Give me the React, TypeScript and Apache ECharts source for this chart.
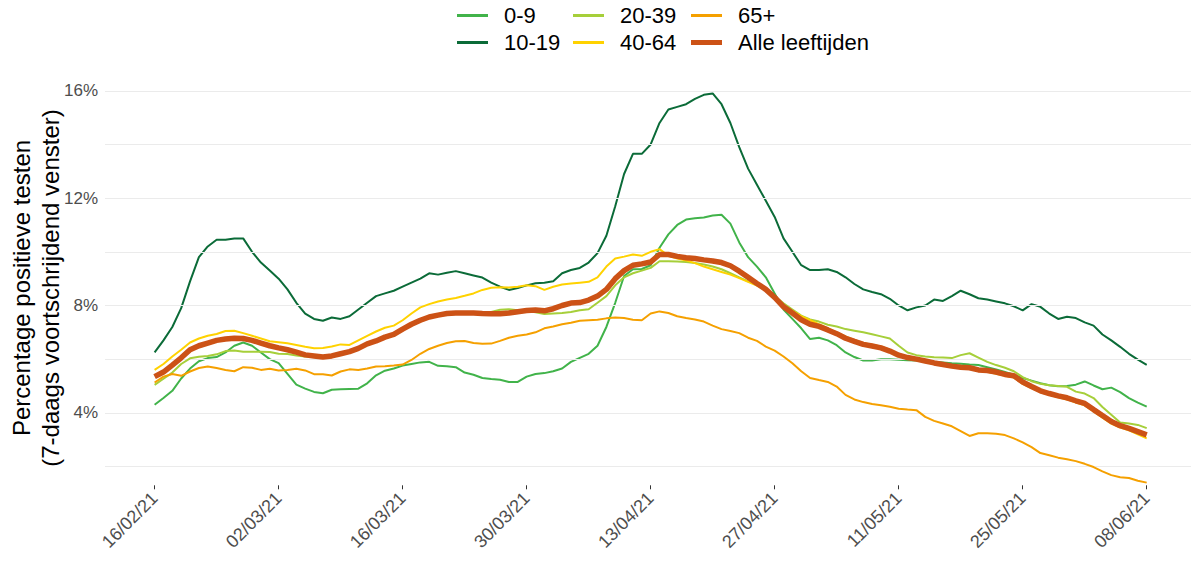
import React, { useEffect, useRef } from "react";
import * as echarts from "echarts";

// x positions are day indices, day 0 = 16/02/21, day 112 = 08/06/21
const tickDays = [0, 14, 28, 42, 56, 70, 84, 98, 112];
const tickLabels = ["16/02/21", "02/03/21", "16/03/21", "30/03/21", "13/04/21", "27/04/21", "11/05/21", "25/05/21", "08/06/21"];
const yLabelValues = [4, 8, 12, 16];
const gridValues = [2, 4, 6, 8, 10, 12, 14, 16];

const age0_9 = [
  4.30, 4.55, 4.82, 5.28, 5.65, 5.92, 6.04, 6.08, 6.25, 6.50,
  6.62, 6.50, 6.25, 6.00, 5.85, 5.45, 5.05, 4.90, 4.78, 4.73,
  4.86, 4.88, 4.89, 4.90, 5.10, 5.40, 5.57, 5.65, 5.76, 5.82,
  5.88, 5.90, 5.75, 5.74, 5.70, 5.50, 5.42, 5.30, 5.26, 5.23,
  5.15, 5.15, 5.35, 5.45, 5.48, 5.55, 5.65, 5.90, 6.05, 6.20,
  6.50, 7.20, 8.10, 9.10, 9.35, 9.36, 9.50, 10.15, 10.65, 11.00,
  11.20, 11.25, 11.28, 11.35, 11.38, 11.05, 10.35, 9.80, 9.45, 9.05,
  8.45, 7.85, 7.50, 7.15, 6.75, 6.80, 6.70, 6.52, 6.25, 6.08,
  5.95, 5.95, 6.00, 6.00, 5.98, 5.96, 5.95, 5.93, 5.90, 5.88,
  5.85, 5.83, 5.80, 5.78, 5.70, 5.62, 5.52, 5.42, 5.30, 5.20,
  5.10, 5.03, 4.99, 5.00, 5.05, 5.17, 5.02, 4.88, 4.94, 4.77,
  4.55, 4.38, 4.23,
];

const age10_19 = [
  6.25, 6.70, 7.20, 7.90, 8.90, 9.80, 10.20, 10.45, 10.45, 10.50,
  10.50, 10.00, 9.60, 9.30, 9.00, 8.60, 8.10, 7.70, 7.50, 7.43,
  7.55, 7.50, 7.60, 7.85, 8.10, 8.35, 8.45, 8.55, 8.70, 8.85,
  9.00, 9.20, 9.15, 9.22, 9.28, 9.20, 9.12, 9.04, 8.85, 8.70,
  8.58, 8.65, 8.75, 8.83, 8.85, 8.90, 9.20, 9.32, 9.40, 9.60,
  9.95, 10.60, 11.70, 12.90, 13.65, 13.65, 14.00, 14.80, 15.30, 15.40,
  15.50, 15.70, 15.85, 15.90, 15.50, 14.80, 13.90, 13.10, 12.50, 11.90,
  11.30, 10.50, 10.00, 9.50, 9.32, 9.32, 9.35, 9.25, 9.05, 8.80,
  8.60, 8.50, 8.42, 8.25, 8.00, 7.82, 7.93, 8.00, 8.22, 8.17,
  8.35, 8.55, 8.42, 8.27, 8.22, 8.15, 8.08, 7.97, 7.82, 8.05,
  7.95, 7.70, 7.50, 7.58, 7.53, 7.37, 7.25, 6.92, 6.70, 6.46,
  6.20, 5.98, 5.79,
];

const age20_39 = [
  5.04, 5.27, 5.50, 5.82, 6.03, 6.09, 6.12, 6.18, 6.30, 6.32,
  6.28, 6.28, 6.28, 6.27, 6.20, 6.19, 6.14, 6.10, 6.08, 6.08,
  6.12, 6.20, 6.28, 6.40, 6.57, 6.68, 6.82, 6.92, 7.12, 7.30,
  7.45, 7.57, 7.65, 7.72, 7.74, 7.75, 7.74, 7.72, 7.76, 7.84,
  7.86, 7.82, 7.80, 7.75, 7.68, 7.70, 7.72, 7.76, 7.82, 7.86,
  8.10, 8.35, 8.75, 9.05, 9.20, 9.30, 9.40, 9.65, 9.65, 9.64,
  9.62, 9.58, 9.53, 9.45, 9.35, 9.20, 9.05, 8.90, 8.78, 8.62,
  8.35, 8.08, 7.85, 7.62, 7.48, 7.40, 7.28, 7.22, 7.12, 7.06,
  7.00, 6.93, 6.85, 6.77, 6.50, 6.25, 6.15, 6.10, 6.07, 6.06,
  6.04, 6.15, 6.22, 6.06, 5.90, 5.78, 5.68, 5.55, 5.33, 5.18,
  5.08, 5.03, 5.00, 4.97, 4.79, 4.72, 4.55, 4.22, 3.93, 3.64,
  3.60, 3.55, 3.43,
];

const age40_64 = [
  5.60, 5.82, 6.10, 6.35, 6.62, 6.77, 6.87, 6.94, 7.05, 7.06,
  6.97, 6.87, 6.77, 6.67, 6.63, 6.59, 6.53, 6.46, 6.41, 6.42,
  6.47, 6.55, 6.53, 6.70, 6.87, 7.03, 7.17, 7.25, 7.45, 7.70,
  7.93, 8.05, 8.15, 8.22, 8.28, 8.36, 8.45, 8.58, 8.66, 8.68,
  8.67, 8.70, 8.75, 8.72, 8.58, 8.70, 8.78, 8.82, 8.85, 8.88,
  9.05, 9.45, 9.75, 9.82, 9.90, 9.85, 10.00, 10.10, 9.85, 9.75,
  9.68, 9.58, 9.45, 9.35, 9.25, 9.15, 9.02, 8.88, 8.74, 8.58,
  8.30, 8.00, 7.80, 7.60, 7.45, 7.30, 7.15, 7.00, 6.85, 6.72,
  6.60, 6.54, 6.47, 6.35, 6.18, 6.06, 6.00, 5.93, 5.86, 5.80,
  5.74, 5.69, 5.66, 5.57, 5.53, 5.46, 5.38, 5.32, 5.08, 4.92,
  4.77, 4.67, 4.58, 4.50, 4.38, 4.28, 4.05, 3.82, 3.60, 3.45,
  3.35, 3.20, 3.05,
];

const age65plus = [
  5.13, 5.35, 5.45, 5.38, 5.54, 5.67, 5.73, 5.67, 5.60, 5.55,
  5.70, 5.68, 5.60, 5.64, 5.58, 5.60, 5.64, 5.58, 5.44, 5.44,
  5.39, 5.54, 5.62, 5.60, 5.65, 5.73, 5.74, 5.76, 5.80, 5.97,
  6.20, 6.38, 6.50, 6.60, 6.67, 6.68, 6.60, 6.57, 6.58, 6.68,
  6.80, 6.87, 6.92, 7.00, 7.15, 7.22, 7.30, 7.36, 7.43, 7.45,
  7.47, 7.52, 7.55, 7.53, 7.47, 7.45, 7.70, 7.78, 7.72, 7.60,
  7.53, 7.48, 7.40, 7.25, 7.12, 7.05, 6.97, 6.80, 6.68, 6.47,
  6.32, 6.10, 5.85, 5.55, 5.30, 5.22, 5.15, 4.98, 4.67, 4.50,
  4.40, 4.33, 4.28, 4.23, 4.15, 4.12, 4.10, 3.85, 3.70, 3.60,
  3.50, 3.32, 3.14, 3.24, 3.24, 3.22, 3.17, 3.05, 2.90, 2.72,
  2.50, 2.42, 2.33, 2.27, 2.20, 2.10, 1.98, 1.82, 1.68, 1.60,
  1.57, 1.47, 1.40,
];

const allAges = [
  5.35, 5.52, 5.78, 6.05, 6.35, 6.50, 6.60, 6.70, 6.75, 6.78,
  6.77, 6.70, 6.60, 6.50, 6.42, 6.35, 6.26, 6.16, 6.12, 6.08,
  6.12, 6.20, 6.28, 6.40, 6.57, 6.68, 6.82, 6.92, 7.12, 7.30,
  7.45, 7.57, 7.64, 7.70, 7.72, 7.72, 7.72, 7.70, 7.69, 7.69,
  7.72, 7.77, 7.81, 7.83, 7.80, 7.88, 8.00, 8.09, 8.11, 8.20,
  8.35, 8.60, 9.00, 9.30, 9.50, 9.55, 9.62, 9.90, 9.90, 9.83,
  9.78, 9.75, 9.70, 9.66, 9.60, 9.48, 9.28, 9.05, 8.82, 8.60,
  8.30, 7.95, 7.72, 7.47, 7.30, 7.22, 7.09, 6.95, 6.78, 6.66,
  6.55, 6.49, 6.42, 6.30, 6.15, 6.06, 6.00, 5.93, 5.86, 5.80,
  5.74, 5.70, 5.68, 5.60, 5.58, 5.52, 5.43, 5.38, 5.15, 4.98,
  4.82, 4.72, 4.63, 4.56, 4.45, 4.35, 4.12, 3.90, 3.68, 3.52,
  3.42, 3.30, 3.18,
];

const seriesNames = ["0-9", "10-19", "20-39", "40-64", "65+", "Alle leeftijden"];
const seriesColors = ["#41b34a", "#0b6b38", "#a6cf3a", "#ffd200", "#f5a000", "#cc5216"];
const seriesValues = [age0_9, age10_19, age20_39, age40_64, age65plus, allAges];

const FONT = "'Liberation Sans', Arial, Helvetica, sans-serif";

export default function App() {
  const ref = useRef<HTMLDivElement>(null);

  useEffect(() => {
    if (!ref.current) return;
    const chart = echarts.init(ref.current, null, { renderer: "svg" });

    const lineSeries = seriesValues.map((vals, k) => ({
      name: seriesNames[k],
      type: "line",
      data: vals.map((v, i) => [i, v]),
      symbol: "none",
      showSymbol: false,
      silent: true,
      z: 3 + k,
      color: seriesColors[k],
      itemStyle: { color: seriesColors[k] },
      lineStyle: { color: seriesColors[k], width: k === 5 ? 5.5 : 2 },
      emphasis: { disabled: true },
    }));

    const gridSeries = {
      name: "grid",
      type: "line",
      data: [],
      silent: true,
      z: 1,
      markLine: {
        silent: true,
        symbol: ["none", "none"],
        label: { show: false },
        lineStyle: { color: "#ebebeb", width: 1.1, type: "solid" },
        emphasis: { disabled: true },
        data: gridValues.map((v) => ({ yAxis: v })),
      },
    };

    const legendBase = {
      orient: "vertical",
      top: -3,
      itemWidth: 31,
      itemHeight: 3,
      itemGap: 0,
      icon: "rect",
      selectedMode: false,
      textStyle: {
        fontFamily: FONT,
        fontSize: 22,
        color: "#000",
        lineHeight: 27,
        padding: [0, 0, 0, 11],
      },
    };

    chart.setOption({
      animation: false,
      backgroundColor: "#ffffff",
      grid: { left: 105, top: 72, width: 1086, height: 413.3, containLabel: false },
      legend: [
        { ...legendBase, left: 452, data: ["0-9", "10-19"] },
        { ...legendBase, left: 568, data: ["20-39", "40-64"] },
        { ...legendBase, left: 686, data: ["65+"] },
        { ...legendBase, left: 686, top: 24, itemHeight: 5, data: ["Alle leeftijden"] },
      ],
      xAxis: {
        type: "value",
        min: -5.6,
        max: 117,
        splitLine: { show: false },
        axisLine: { show: false },
        axisTick: {
          show: true,
          customValues: tickDays,
          length: 4,
          lineStyle: { color: "#333333", width: 1 },
        },
        axisLabel: {
          customValues: tickDays,
          rotate: 45,
          margin: 10,
          fontFamily: FONT,
          fontSize: 18,
          color: "#4d4d4d",
          formatter: (v: number) => tickLabels[Math.round(v / 14)] ?? "",
        },
      },
      yAxis: {
        type: "value",
        min: 1.3,
        max: 16.7,
        splitLine: { show: false },
        axisLine: { show: false },
        axisTick: {
          show: true,
          customValues: yLabelValues,
          length: 4,
          lineStyle: { color: "#333333", width: 1 },
        },
        axisLabel: {
          customValues: yLabelValues,
          margin: 7,
          fontFamily: FONT,
          fontSize: 17,
          color: "#4d4d4d",
          formatter: (v: number) => `${v}%`,
        },
      },
      graphic: [
        {
          type: "text",
          x: 36,
          y: 288,
          rotation: Math.PI / 2,
          silent: true,
          style: {
            text: "Percentage positieve testen\n(7-daags voortschrijdend venster)",
            fontFamily: FONT,
            fontSize: 24,
            lineHeight: 29,
            fill: "#000",
            align: "center",
            verticalAlign: "middle",
          },
        },
      ],
      series: [gridSeries, ...lineSeries],
    });

    return () => chart.dispose();
  }, []);

  return (
    <div
      ref={ref}
      style={{ position: "fixed", left: 0, top: 0, width: 1194, height: 580, background: "#fff" }}
    />
  );
}
